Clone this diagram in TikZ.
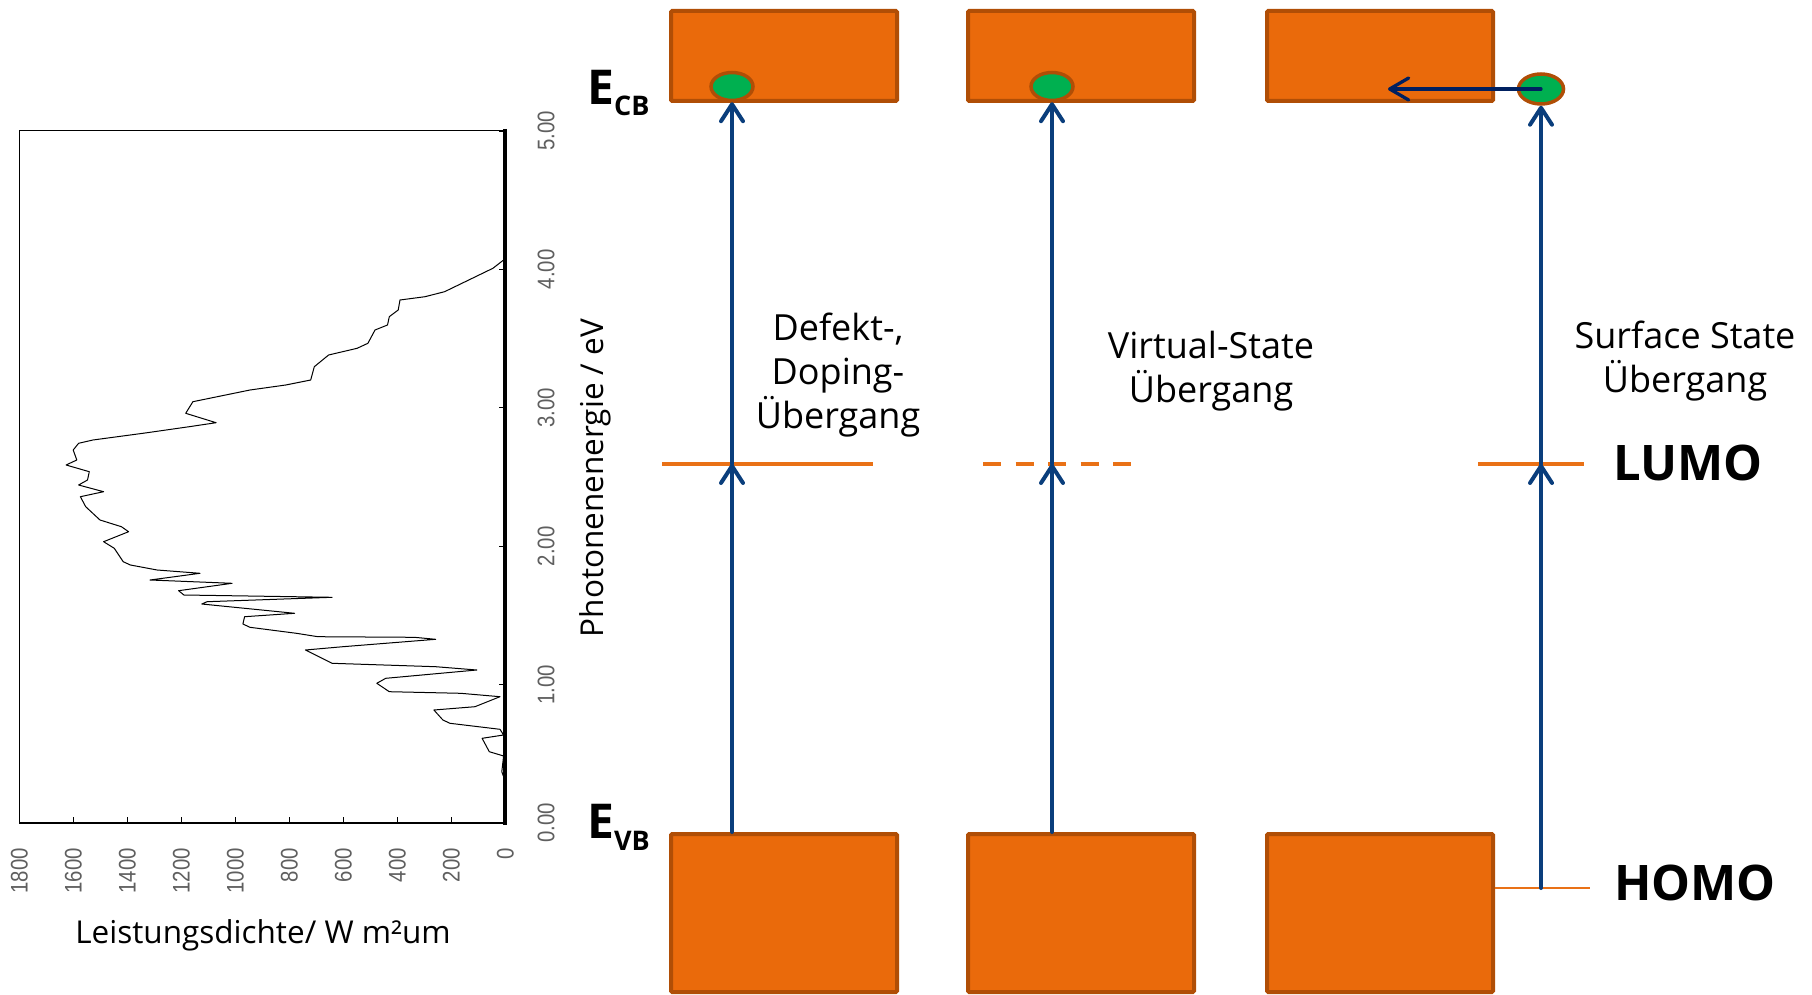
\documentclass[tikz,border=0pt]{standalone}
\usepackage{fontspec}
\setmainfont{Open Sans}
\newfontfamily\tickfont{Liberation Sans}
\usetikzlibrary{arrows.meta,shapes.geometric}
\definecolor{bandfill}{RGB}{234,106,11}
\definecolor{banddraw}{RGB}{176,78,6}
\definecolor{elgreen}{RGB}{0,176,80}
\definecolor{arrblue}{RGB}{10,62,124}
\definecolor{navyarr}{RGB}{0,32,96}
\definecolor{lvl}{RGB}{233,113,22}
\definecolor{ticktxt}{RGB}{95,95,95}
\begin{document}
\begin{tikzpicture}[x=1pt,y=-1pt,
  band/.style={draw=banddraw, fill=bandfill, line width=4pt, rounded corners=1.2pt,
    inner sep=0pt, minimum width=226pt},
  elec/.style={ellipse, draw=banddraw, fill=elgreen, line width=3.5pt, inner sep=0pt},
  uparrow/.style={draw=arrblue, line width=4pt, line cap=round,
    -{Straight Barb[length=17pt,width=22pt,round]}},
  lumoline/.style={draw=lvl, line width=3.7pt},
  label/.style={font=\fontsize{36}{44}\selectfont, align=center, anchor=base},
  bigbold/.style={font=\fontsize{49}{49}\selectfont\bfseries, anchor=base west},
  ytick/.style={font=\tickfont\fontsize{24}{24}\selectfont, text=ticktxt, rotate=90, inner sep=0pt},
  axlabel/.style={font=\fontsize{31.5}{32}\selectfont}
]
\useasboundingbox (0,0) rectangle (1812,995);

% ---------- spectrum plot ----------
\draw[line width=1.5pt] (505,130.7) -- (19.6,130.7) -- (19.6,823) -- (505,823);
\draw[line width=3.4pt] (505,129) -- (505,825);
\foreach \k/\t in {0/0.00,1/1.00,2/2.00,3/3.00,4/4.00,5/5.00}{
  \draw[line width=1.2pt] (505,823-138.4*\k) -- (499,823-138.4*\k);
  \node[ytick] at (546,823-138.4*\k) {\scalebox{0.85}[1]{\t}};
}
\foreach \k/\t in {0/0,1/200,2/400,3/600,4/800,5/1000,6/1200,7/1400,8/1600,9/1800}{
  \draw[line width=1.2pt] (505.4-54*\k,823) -- (505.4-54*\k,817);
  \node[ytick, anchor=east] at (505.4-54*\k,848) {\scalebox{0.85}[1]{\t}};
}
\draw[line width=1pt, line join=round] plot coordinates {
(503.6,260) (492.9,268.3) (444.6,291.7) (425,296.7) (400,300) (398.2,310) (389.3,316.7)
(387.5,325) (375,330) (367.9,343.3) (357.1,348.3) (328.6,355) (314.3,366.7) (310.7,380)
(285.7,385) (250,390) (192.9,401.7) (185.7,413.3) (216.1,422.7) (189.3,426.7) (142.9,433.3)
(92.9,440) (78.6,443.3) (73.2,450) (76.8,460) (66.1,465) (89.3,471.7) (87.5,480) (78.6,485)
(103.6,491.7) (80.4,496.7) (85.7,506.7) (100,520) (121.4,526.7) (128.6,531.7) (103.6,541.7)
(114.3,548.3) (123.2,561.7) (130.4,565) (157.1,570) (200,573.3) (150,580) (232.1,583.3)
(178.6,590.7) (183.9,595) (332.1,597.3) (207.1,601.7) (201.8,604) (294.6,613.3) (244.6,616.7)
(242.9,624) (250,627.3) (296.4,633.3) (317.9,636.7) (414.3,637.3) (435.7,639.3) (342.9,646.7)
(305.4,650) (332.1,663.3) (435.7,666.7) (476.8,670) (385.7,678.3) (376.8,683.3) (389.3,691.7)
(460.7,693.3) (500,696.7) (475,706.7) (433.9,710) (442.9,720) (450,723.3) (500,729.3)
(503.6,735) (482.1,738.3) (489.3,751.7) (503.6,756) (501.8,771.7) (503.6,776.7)};
\node[axlabel, anchor=base] (xlab) at (263,943) {Leistungsdichte/ W m²um};
\node[axlabel, rotate=90] (ylab) at (595,478) {Photonenenergie / eV};

% ---------- bands ----------
\node[band, minimum height=90pt] (cb1) at (784,56) {};
\node[band, minimum height=90pt] (cb2) at (1081,56) {};
\node[band, minimum height=90pt] (cb3) at (1380,56) {};
\node[band, minimum height=158pt] (vb1) at (784,913) {};
\node[band, minimum height=158pt] (vb2) at (1081,913) {};
\node[band, minimum height=158pt] (vb3) at (1380,913) {};

% level lines
\draw[lumoline] (662,464) -- (873,464);
\draw[lumoline, dash pattern=on 18pt off 14.5pt] (983,464) -- (1131,464);
\draw[lumoline] (1478,464) -- (1584,464);
\coordinate (homoL) at (vb3.east |- 0,888);
\coordinate (homoR) at (1590,888);
\draw[draw=lvl, line width=2pt] (homoL) -- (homoR);

% electrons
\node[elec, minimum width=42pt, minimum height=28pt] (e1) at (732,86.5) {};
\node[elec, minimum width=42pt, minimum height=28pt] (e2) at (1052,86.5) {};
\node[elec, minimum width=45pt, minimum height=30pt] (e3) at (1541,89) {};

% transition arrows
\coordinate (m1) at (732,464);
\coordinate (m2) at (1052,464);
\coordinate (m3) at (1541,464);
\draw[uparrow] (vb1.north -| m1) -- (m1);
\draw[uparrow] (m1) -- (e1.south);
\draw[uparrow] (vb2.north -| m2) -- (m2);
\draw[uparrow] (m2) -- (e2.south);
\draw[uparrow] (homoL -| m3) -- (m3);
\draw[uparrow] (m3) -- (e3.south);
\coordinate (hx) at (1388,89);
\draw[draw=navyarr, line width=3.3pt, line cap=round,
  -{Straight Barb[length=19pt,width=22pt,round]}] (e3.center) -- (hx);

% ---------- labels ----------
\node[font=\fontsize{48}{48}\selectfont\bfseries, anchor=base west, inner sep=0pt] (ecb) at (587,105)
  {E\raisebox{-11pt}{\fontsize{27}{27}\selectfont CB}};
\node[font=\fontsize{48}{48}\selectfont\bfseries, anchor=base west, inner sep=0pt] (evb) at (587,838)
  {E\raisebox{-12pt}{\fontsize{27}{27}\selectfont VB}};
\node[bigbold, inner sep=0pt] (lumo) at (1613,480) {LUMO};
\node[bigbold, inner sep=0pt] (homo) at (1614,900) {HOMO};
\node[label] (t1) at (838,428) {Defekt-,\\Doping-\\Übergang};
\node[label] (t2) at (1211,402) {Virtual-State\\Übergang};
\node[label] (t3) at (1685,392) {Surface State\\Übergang};
\end{tikzpicture}
\end{document}
